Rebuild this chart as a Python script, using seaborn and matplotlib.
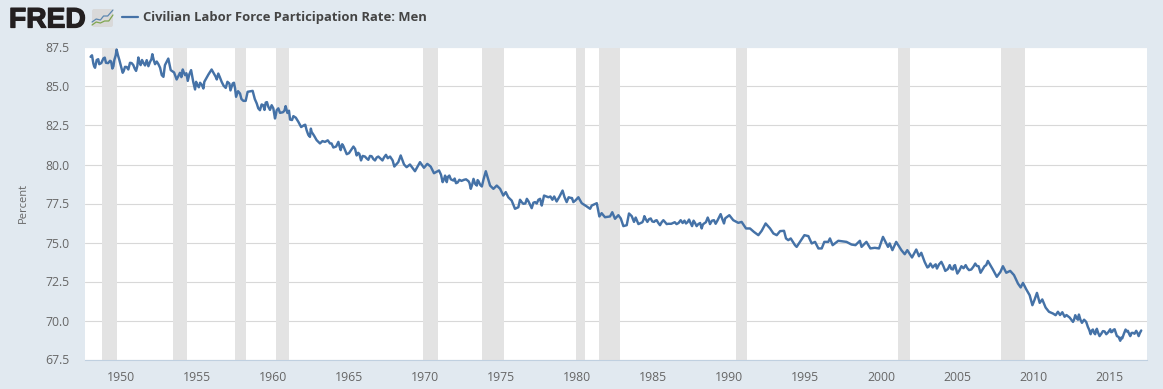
import matplotlib
matplotlib.use('Agg')
import matplotlib.pyplot as plt
import matplotlib.patheffects as pe
from matplotlib.patches import FancyBboxPatch
import pandas as pd
import seaborn as sns

# values, irregular dates where the line turns
years_1948 = [1948.0, 1948.09, 1948.18, 1948.29, 1948.4, 1948.57, 1948.84, 1949.01, 1949.28, 1949.43, 1949.56, 1949.71, 1949.89,
              1950.11, 1950.26, 1950.48, 1950.59, 1950.81, 1950.99, 1951.14, 1951.29, 1951.47, 1951.69, 1951.91, 1952.06, 1952.24,
              1952.46, 1952.68, 1952.79, 1952.89, 1953.11, 1953.27, 1953.49, 1953.66, 1953.88, 1954.06, 1954.21, 1954.39, 1954.61,
              1954.87, 1955.02, 1955.2, 1955.42, 1955.48, 1955.75, 1955.96, 1956.23, 1956.4, 1956.62, 1956.89, 1957.13, 1957.28,
              1957.43, 1957.57, 1957.83, 1958.05, 1958.2, 1958.33, 1958.66, 1958.93, 1959.14, 1959.36, 1959.52, 1959.69, 1959.91,
              1960.13, 1960.24, 1960.46, 1960.83, 1961.12, 1961.34, 1961.67, 1962.04, 1962.21, 1962.43, 1962.54, 1962.87, 1963.09,
              1963.42, 1963.75, 1963.97, 1964.3, 1964.45, 1964.63, 1964.85]
rate_1948 = [86.9, 87.0, 86.47, 86.2, 86.7, 86.43, 86.8, 86.52, 86.65, 86.15, 86.7, 87.37, 86.7,
             85.88, 86.26, 86.09, 86.52, 86.37, 86.0, 86.86, 86.37, 86.52, 86.69, 86.58, 87.07, 86.43,
             86.43, 85.73, 85.62, 86.37, 86.79, 86.05, 85.9, 85.45, 85.88, 86.09, 85.73, 85.36, 86.05,
             84.81, 85.09, 85.24, 84.87, 85.3, 85.77, 86.09, 85.62, 85.83, 85.3, 84.91, 85.19, 84.98,
             85.24, 84.34, 84.55, 84.08, 84.08, 84.66, 84.72, 83.91, 83.48, 83.8, 83.97, 83.7, 83.8,
             82.95, 83.48, 83.31, 83.74, 82.88, 83.1, 82.73, 82.52, 82.2, 81.77, 82.09, 81.56, 81.35,
             81.45, 81.35, 81.09, 81.45, 80.92, 81.18, 80.66]

years_1965 = [1965.0, 1965.29, 1965.5, 1965.68, 1965.79, 1966.05, 1966.27, 1966.49, 1966.71, 1966.93, 1967.2, 1967.43, 1967.7,
              1967.87, 1967.98, 1968.24, 1968.4, 1968.62, 1968.79, 1969.01, 1969.34, 1969.67, 1969.93, 1970.15, 1970.37, 1970.59,
              1970.92, 1971.16, 1971.32, 1971.43, 1971.6, 1971.87, 1972.04, 1972.26, 1972.57, 1972.86, 1973.01, 1973.19, 1973.41,
              1973.52, 1973.74, 1974.0, 1974.28, 1974.5, 1974.72, 1974.94, 1975.15, 1975.31, 1975.48, 1975.7, 1975.92, 1976.14,
              1976.25, 1976.47, 1976.8, 1977.02, 1977.24, 1977.46, 1977.68, 1977.83, 1978.12, 1978.38, 1978.66, 1979.05, 1979.32,
              1979.58, 1979.76, 1980.09, 1980.31, 1980.64, 1980.86, 1980.97, 1981.3, 1981.47, 1981.62, 1981.84, 1982.17, 1982.32,
              1982.5]
rate_1965 = [80.73, 81.15, 80.58, 80.68, 80.26, 80.51, 80.3, 80.53, 80.26, 80.51, 80.26, 80.62, 80.51,
             80.26, 79.87, 80.15, 80.58, 80.0, 79.83, 80.0, 79.57, 80.15, 79.79, 80.04, 79.87, 79.44,
             79.62, 78.87, 79.29, 78.87, 79.29, 78.97, 78.8, 79.02, 79.02, 78.93, 78.44, 79.08, 78.65,
             78.93, 78.59, 79.57, 78.65, 78.44, 78.65, 78.44, 78.01, 78.23, 77.9, 77.69, 77.16, 77.26,
             77.74, 77.48, 77.65, 77.2, 77.59, 77.74, 77.37, 78.01, 77.9, 77.74, 77.63, 78.33, 77.59,
             77.86, 77.59, 77.9, 77.52, 77.31, 77.16, 77.37, 77.52, 76.67, 76.88, 76.62, 76.67, 76.94,
             76.52]

years_1982 = [1982.72, 1982.88, 1983.05, 1983.27, 1983.42, 1983.6, 1983.75, 1983.86, 1984.04, 1984.3, 1984.43, 1984.63, 1984.85,
              1985.07, 1985.24, 1985.46, 1985.68, 1985.9, 1986.33, 1986.55, 1986.82, 1987.17, 1987.37, 1987.57, 1987.76, 1987.98,
              1988.2, 1988.36, 1988.6, 1988.75, 1989.01, 1989.23, 1989.45, 1989.67, 1990.02, 1990.28, 1990.61, 1990.83, 1991.12,
              1991.38, 1991.64, 1991.93, 1992.15, 1992.41, 1992.7, 1992.92, 1993.14, 1993.36, 1993.62, 1993.75, 1993.9, 1994.06,
              1994.34, 1994.45, 1994.67, 1994.96, 1995.22, 1995.44, 1995.66, 1995.88, 1996.1, 1996.27, 1996.53, 1996.64, 1996.82,
              1997.19, 1997.73, 1998.06, 1998.32, 1998.61, 1998.72, 1999.04, 1999.3, 1999.59, 1999.87]
rate_1982 = [76.75, 76.54, 76.05, 76.11, 76.86, 76.69, 76.32, 76.6, 76.18, 76.3, 76.69, 76.32, 76.54,
             76.32, 76.43, 76.11, 76.43, 76.18, 76.26, 76.18, 76.43, 76.22, 76.47, 76.05, 76.26, 76.18,
             75.9, 76.22, 76.6, 76.18, 76.43, 76.39, 76.82, 76.22, 76.75, 76.43, 76.26, 76.32, 75.9,
             75.9, 75.68, 75.47, 75.75, 76.22, 75.9, 75.58, 75.47, 75.73, 75.75, 75.26, 75.15, 75.26,
             74.83, 74.72, 75.04, 75.47, 75.41, 74.94, 75.04, 74.62, 74.62, 75.04, 75.04, 75.26, 74.83,
             75.11, 75.04, 74.87, 74.83, 75.11, 74.72, 75.04, 74.62, 74.66, 74.62]

years_2000 = [2000.13, 2000.46, 2000.57, 2000.75, 2001.0, 2001.34, 2001.56, 2001.73, 2002.04, 2002.32, 2002.5, 2002.65, 2002.87,
              2003.13, 2003.25, 2003.53, 2003.68, 2003.97, 2004.23, 2004.52, 2004.74, 2004.87, 2005.02, 2005.29, 2005.57, 2005.79,
              2005.94, 2006.2, 2006.42, 2006.55, 2006.81, 2007.03, 2007.36, 2007.62, 2007.86, 2008.02, 2008.24, 2008.5, 2008.75,
              2009.01, 2009.19, 2009.34, 2009.56, 2009.78, 2009.96, 2010.09, 2010.26, 2010.44, 2010.61, 2010.83, 2011.05, 2011.31,
              2011.49, 2011.64, 2011.93, 2012.08, 2012.41, 2012.63, 2012.78, 2012.89, 2013.02, 2013.22, 2013.5, 2013.61, 2013.79,
              2013.94, 2014.09, 2014.2, 2014.38, 2014.6, 2014.82, 2015.08, 2015.21, 2015.37, 2015.52, 2015.74, 2015.87, 2016.09,
              2016.24, 2016.4, 2016.57, 2016.79, 2016.95, 2017.12]
rate_2000 = [75.36, 74.72, 74.94, 74.51, 75.04, 74.51, 74.25, 74.51, 74.04, 74.55, 74.12, 74.34, 73.76,
             73.44, 73.65, 73.55, 73.33, 73.76, 73.18, 73.55, 73.27, 73.55, 73.01, 73.48, 73.55, 73.23,
             73.27, 73.65, 73.48, 73.06, 73.48, 73.82, 73.27, 72.8, 73.12, 73.48, 73.06, 73.18, 72.91,
             72.37, 72.12, 72.41, 71.99, 71.62, 70.98, 71.3, 71.77, 71.13, 71.35, 70.83, 70.56, 70.45,
             70.34, 70.56, 70.53, 70.24, 70.19, 69.91, 70.34, 70.13, 70.38, 69.85, 69.91, 69.59, 69.12,
             69.42, 69.12, 69.47, 69.0, 69.32, 69.12, 69.44, 69.27, 69.44, 69.0, 68.7, 68.85, 69.42,
             69.34, 69.0, 69.21, 69.34, 69.0, 69.36]

# smaller month to month teeth in the jumpy stretches, merged in by date
years_teeth = [1948.23, 1948.5, 1948.7, 1948.93, 1949.15, 1949.35, 1949.5, 1949.65, 1949.8, 1950.0, 1950.18, 1950.37, 1950.7,
               1950.9, 1951.07, 1951.2, 1951.38, 1951.58, 1951.8, 1952.0, 1952.15, 1952.35, 1952.57, 1953.97, 1954.13, 1954.3,
               1954.5, 1954.75, 1954.94, 1955.12, 1955.32, 1956.3, 1956.5, 1956.75, 1957.0, 1957.2, 1957.35, 1957.5, 1957.7,
               1957.92, 1958.8, 1959.03, 1959.25, 1959.44, 1959.6, 1959.8, 1960.02, 1960.19, 1960.35, 1960.65, 1960.75, 1960.95,
               1961.05, 1961.25, 1961.5, 1961.85, 1962.12, 1962.32, 1962.49, 1962.7, 1963.25, 1963.6, 1963.85, 1964.15, 1964.38,
               1964.55, 1964.75, 1965.15, 1965.4, 1965.6, 1965.9, 1966.15, 1966.38, 1966.6, 1966.82, 1967.05, 1967.3, 1967.55,
               1971.05, 1971.25, 1971.38, 1971.5, 1971.7, 1971.95, 1972.15, 1972.4, 1972.7, 1972.93, 1973.1, 1973.3, 1973.46,
               1973.63, 1973.85, 1976.35, 1976.6, 1976.7, 1976.9, 1977.13, 1977.35, 1977.57, 1977.75, 1978.25, 1978.5, 1978.85,
               1979.18, 1979.45, 1979.67, 1979.9, 1984.37, 1984.52, 1984.74, 1984.95, 1985.15, 1985.35, 1985.57, 1985.8, 1986.0,
               1986.2, 1986.43, 1986.68, 1986.95, 1987.07, 1987.27, 1987.47, 1987.67, 1987.87, 1988.1, 1988.28, 1988.48, 1988.68,
               1988.88, 1989.12, 1989.34, 1989.56, 1989.75, 2003.05, 2003.4, 2003.6, 2003.82, 2004.1, 2004.4, 2004.63, 2004.8,
               2005.15, 2005.43, 2005.68, 2006.08, 2006.3, 2006.7, 2006.92, 2011.78, 2012.2, 2012.52, 2012.7, 2012.96, 2013.12,
               2013.36, 2013.7, 2013.86, 2014.02, 2014.15, 2014.29, 2014.49, 2014.71, 2014.95, 2015.14, 2015.29, 2015.45, 2015.63,
               2015.8, 2015.98, 2016.16, 2016.32, 2016.48, 2016.68, 2016.87, 2017.03]
rate_teeth = [86.3, 86.75, 86.5, 86.85, 86.5, 86.6, 86.3, 87.0, 87.0, 86.3, 86.0, 86.25, 86.5,
              86.15, 86.3, 86.6, 86.7, 86.35, 86.3, 86.75, 86.7, 86.6, 86.2, 85.6, 85.9, 85.85,
              85.8, 85.3, 85.3, 84.95, 85.1, 85.45, 85.6, 85.05, 85.3, 84.75, 85.2, 84.9, 84.7,
              84.2, 84.2, 83.6, 83.85, 83.5, 84.0, 83.5, 83.6, 83.2, 83.6, 83.35, 83.45, 83.3,
              83.45, 82.85, 83.0, 82.4, 82.55, 81.9, 82.3, 81.85, 81.5, 81.55, 81.35, 81.15, 81.15,
              81.3, 80.9, 80.95, 81.0, 80.75, 80.55, 80.4, 80.55, 80.35, 80.45, 80.4, 80.45, 80.4,
              79.35, 79.05, 79.1, 79.2, 79.05, 79.1, 78.85, 78.95, 79.05, 78.8, 78.7, 78.75, 79.0,
              78.7, 79.05, 77.6, 77.5, 77.8, 77.45, 77.55, 77.5, 77.8, 77.65, 77.95, 77.95, 77.95,
              77.9, 77.9, 77.85, 77.7, 76.45, 76.5, 76.5, 76.35, 76.4, 76.25, 76.3, 76.3, 76.2,
              76.2, 76.3, 76.25, 76.25, 76.4, 76.3, 76.25, 76.4, 76.05, 76.25, 76.15, 76.3, 76.4,
              76.4, 76.2, 76.6, 76.5, 76.55, 73.4, 73.4, 73.6, 73.6, 73.5, 73.3, 73.3, 73.5,
              73.2, 73.35, 73.35, 73.45, 73.5, 73.3, 73.55, 70.35, 70.35, 70.05, 70.05, 70.05, 70.05,
              70.05, 69.4, 69.35, 69.2, 69.35, 69.2, 69.15, 69.3, 69.25, 69.25, 69.4, 69.2, 68.95,
              68.9, 69.15, 69.3, 69.15, 69.2, 69.15, 69.2, 69.2]

rec_start = [1948.75, 1953.42, 1957.5, 1960.2, 1969.87, 1973.75, 1979.93, 1981.45, 1990.46, 2001.1, 2007.89]
rec_end = [1949.72, 1954.32, 1958.2, 1961.03, 1970.83, 1975.18, 1980.5, 1982.83, 1991.18, 2001.9, 2009.45]

x_ticks = list(range(1950, 2016, 5))
y_ticks = [67.5, 70.0, 72.5, 75.0, 77.5, 80.0, 82.5, 85.0, 87.5]

title = 'Civilian Labor Force Participation Rate: Men'

bg = '#E1E9F0'
line_col = '#4572A7'
text_col = '#666666'

df = pd.DataFrame({
    'year': years_1948 + years_1965 + years_1982 + years_2000 + years_teeth,
    'rate': rate_1948 + rate_1965 + rate_1982 + rate_2000 + rate_teeth,
})

sns.set_theme(style='white')
plt.rcParams['font.family'] = ['Open Sans', 'DejaVu Sans']

fig = plt.figure(figsize=(11.63, 3.89), dpi=100, facecolor=bg)
W, H = 1163, 389
ax = fig.add_axes([85 / W, 1 - 359.5 / H, (1147 - 85) / W, (359.5 - 47.5) / H])
ax.set_facecolor('white')

for a, b in zip(rec_start, rec_end):
    ax.axvspan(a, b, color='#E3E3E3', lw=0, zorder=1)

sns.lineplot(data=df, x='year', y='rate', color=line_col, linewidth=1.75, estimator=None,
             errorbar=None, ax=ax, zorder=3)

ax.set_xlim(1947.63, 2017.5)
ax.set_ylim(67.5, 87.5)
ax.set_xticks(x_ticks)
ax.set_yticks(y_ticks)
ax.set_yticklabels(['%.1f' % v for v in y_ticks])
ax.grid(axis='y', color='#D8D8D8', lw=0.8, zorder=2)
ax.grid(axis='x', visible=False)
ax.tick_params(axis='x', length=7, width=0.72, color='#C0D0E0', labelsize=8.8, labelcolor=text_col, pad=1)
ax.tick_params(axis='y', length=0, labelsize=8.8, labelcolor=text_col, pad=10.8)
for s in ['top', 'left', 'right']:
    ax.spines[s].set_visible(False)
ax.spines['bottom'].set_color('#C0D0E0')
ax.spines['bottom'].set_linewidth(0.8)
ax.set_xlabel('')
ax.set_ylabel('')

fig.text(23 / W, 1 - 203 / H, 'Percent', rotation=90, ha='center', va='center', fontsize=8, color=text_col)

# header: logo and legend
fig.text(9 / W, 1 - 27.5 / H, 'FRED', family='Liberation Sans', weight='bold', fontsize=20.3, color='#231F20', va='baseline',
         path_effects=[pe.withStroke(linewidth=0.9, foreground='#231F20')])
icon = fig.add_axes([91 / W, 1 - 28 / H, 23 / W, 20 / H])
icon.axis('off')
icon.set_xlim(0, 22)
icon.set_ylim(0, 20)
icon.add_patch(FancyBboxPatch((1, 1), 20, 18, boxstyle='round,pad=0,rounding_size=2', fc='#D9D9D9', ec='none'))
icon.plot([1, 5, 9, 12, 16, 21], [6, 9, 8, 12, 12, 18], color='#5B87B0', lw=0.9)
icon.plot([1, 5, 9, 13, 17, 21], [3, 6, 5, 7, 7, 13], color='#7FA650', lw=0.9)

fig.add_artist(plt.Line2D([122 / W, 138 / W], [1 - 17 / H, 1 - 17 / H], color=line_col, lw=1.6))
fig.text(143 / W, 1 - 17 / H, title, fontsize=9.4, weight='bold', color='#444444', va='center', ha='left')

fig.savefig('out.png', dpi=100, facecolor=bg)
